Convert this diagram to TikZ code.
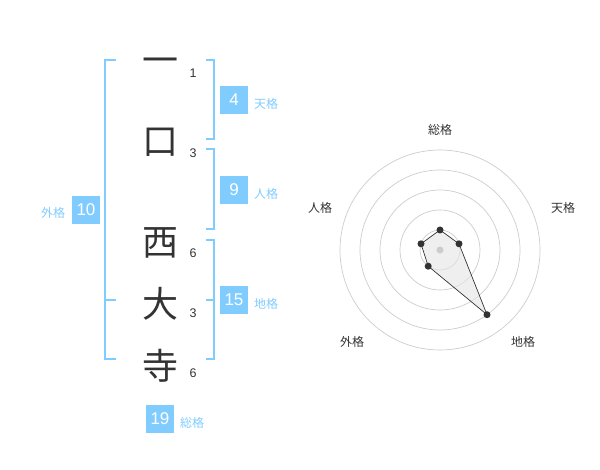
\documentclass[tikz,border=0pt]{standalone}
\usepackage{fontspec}
\setmainfont{Liberation Sans}
\newfontfamily\jp{Noto Sans CJK JP}
\definecolor{sky}{HTML}{80CCFF}
\definecolor{ink}{HTML}{333333}
\definecolor{ring}{HTML}{CCCCCC}
\begin{document}
\begin{tikzpicture}[x=1pt,y=-1pt,
  kanji/.style={font=\jp\fontsize{36}{36}\selectfont,text=ink,inner sep=0pt},
  strokes/.style={font=\fontsize{12.5}{12.5}\selectfont,text=ink,inner sep=0pt},
  gbox/.style={fill=sky,text=white,minimum width=28pt,minimum height=28pt,inner sep=0pt,font=\fontsize{17}{17}\selectfont},
  glabel/.style={font=\jp\fontsize{12}{12}\selectfont,text=sky,inner sep=0pt},
  bracket/.style={draw=sky,line width=2pt},
  rlabel/.style={font=\jp\fontsize{12}{12}\selectfont,text=ink,inner sep=0pt},
  ringc/.style={draw=ring,line width=0.7pt},
  dot/.style={circle,fill=ink,inner sep=0pt,minimum size=7pt}]
\useasboundingbox (0,0) rectangle (600,470);
% characters
\node[kanji] (c1) at (160,66) {一};
\node[kanji] (c2) at (160,142) {口};
\node[kanji] (c3) at (160,243) {西};
\node[kanji] (c4) at (160,304) {大};
\node[kanji] (c5) at (160,366) {寺};
\node[strokes] (n1) at (193,73) {1};
\node[strokes] (n2) at (193,153) {3};
\node[strokes] (n3) at (193,253) {6};
\node[strokes] (n4) at (193,313) {3};
\node[strokes] (n5) at (193,373) {6};
% brackets
\draw[bracket] (116,60) -- (105,60) -- (105,359) -- (116,359);
\draw[bracket] (105,300) -- (116,300);
\draw[bracket] (206,60) -- (214,60) -- (214,139) -- (206,139);
\draw[bracket] (206,149) -- (214,149) -- (214,229) -- (206,229);
\draw[bracket] (206,240) -- (214,240) -- (214,359) -- (206,359);
\draw[bracket] (206,300) -- (214,300);
% boxes
\node[gbox] (ten) at (234,100) {4};
\node[glabel] (tenl) at (266,104) {天格};
\node[gbox] (jin) at (234,190) {9};
\node[glabel] (jinl) at (266,194) {人格};
\node[gbox] (chi) at (234,300) {15};
\node[glabel] (chil) at (266,304) {地格};
\node[gbox] (gai) at (86,210) {10};
\node[glabel] (gail) at (53,213) {外格};
\node[gbox] (sou) at (160,419) {19};
\node[glabel] (soul) at (192,423) {総格};
% radar
\coordinate (ctr) at (440,250);
\foreach \r in {20,40,60,80,100} \draw[ringc] (ctr) circle[radius=\r];
\node[rlabel] (lsou) at (440,130) {総格};
\node[rlabel] (lten) at (563,208) {天格};
\node[rlabel] (ljin) at (320,208) {人格};
\node[rlabel] (lgai) at (352,342) {外格};
\node[rlabel] (lchi) at (523,342) {地格};
\coordinate (psou) at (440,230);
\coordinate (pten) at (459.0,243.8);
\coordinate (pchi) at (487.0,314.7);
\coordinate (pgai) at (428.2,266.2);
\coordinate (pjin) at (421.0,243.8);
\fill[black!10,fill opacity=0.6] (psou) -- (pten) -- (pchi) -- (pgai) -- (pjin) -- cycle;
\fill[ring] (ctr) circle[radius=3.5];
\draw[ink,line width=0.7pt] (psou) -- (pten) -- (pchi) -- (pgai) -- (pjin) -- cycle;
\foreach \p in {psou,pten,pchi,pgai,pjin} \node[dot] at (\p) {};
\end{tikzpicture}
\end{document}
